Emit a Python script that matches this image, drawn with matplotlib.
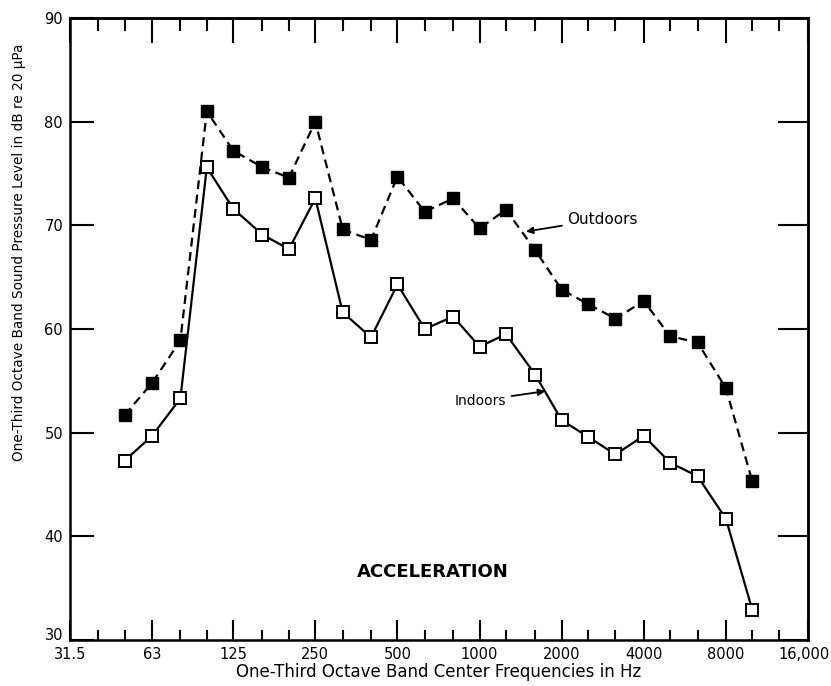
import matplotlib
matplotlib.use("Agg")
import matplotlib.pyplot as plt
import matplotlib.transforms as mtransforms
from matplotlib.ticker import FixedLocator, NullFormatter, NullLocator

# --- data -------------------------------------------------------------
freqs = [50, 63, 80, 100, 125, 160, 200, 250, 315, 400, 500, 630, 800,
         1000, 1250, 1600, 2000, 2500, 3150, 4000, 5000, 6300, 8000, 10000]
outdoors = [51.7, 54.8, 58.9, 81.0, 77.2, 75.6, 74.6, 80.0, 69.6, 68.6,
            74.7, 71.3, 72.6, 69.7, 71.5, 67.6, 63.8, 62.4, 61.0, 62.7,
            59.3, 58.7, 54.3, 45.3]
indoors = [47.3, 49.7, 53.3, 75.6, 71.6, 69.1, 67.7, 72.6, 61.6, 59.2,
           64.3, 60.0, 61.2, 58.3, 59.5, 55.6, 51.2, 49.6, 47.9, 49.7,
           47.1, 45.8, 41.7, 32.9]
octave_ticks = [31.5, 63, 125, 250, 500, 1000, 2000, 4000, 8000, 16000]
octave_labels = ["31.5", "63", "125", "250", "500", "1000", "2000", "4000",
                 "8000", "16,000"]
third_ticks = [40, 50, 80, 100, 160, 200, 315, 400, 630, 800, 1250, 1600,
               2500, 3150, 5000, 6300, 10000, 12500]
y_ticks = [30, 40, 50, 60, 70, 80, 90]

# --- figure -----------------------------------------------------------
fig = plt.figure(figsize=(8.31, 6.86), dpi=100)
ax = fig.add_axes([0.0842, 0.067, 0.8881, 0.9068])

ax.plot(freqs, outdoors, linestyle=(0, (4, 2.5)), color="black", lw=1.6,
        marker="s", markersize=8, markerfacecolor="black",
        markeredgecolor="black", zorder=3)
ax.plot(freqs, indoors, linestyle="-", color="black", lw=1.6,
        marker="s", markersize=8.5, markerfacecolor="white",
        markeredgecolor="black", markeredgewidth=1.4, zorder=3)

ax.set_xscale("log")
ax.set_xlim(31.5, 16000)
ax.set_ylim(30, 90)

for s in ax.spines.values():
    s.set_linewidth(1.8)

# x ticks (bottom)
ax.xaxis.set_major_locator(FixedLocator(octave_ticks))
ax.set_xticklabels(octave_labels)
ax.xaxis.set_minor_locator(FixedLocator(third_ticks))
ax.xaxis.set_minor_formatter(NullFormatter())
ax.tick_params(axis="x", which="major", direction="in", length=14.4,
               width=1.5, labelsize=10.5, pad=5)
ax.tick_params(axis="x", which="minor", direction="in", length=7.2, width=1.5)
lbls = ax.get_xticklabels()
lbls[-1].set_transform(lbls[-1].get_transform() +
                       mtransforms.ScaledTranslation(-4 / 100, 0,
                                                     fig.dpi_scale_trans))

# y ticks (left)
ax.yaxis.set_major_locator(FixedLocator(y_ticks))
ax.yaxis.set_minor_locator(NullLocator())
ax.tick_params(axis="y", which="major", direction="in", length=17, width=1.5,
               labelsize=10.5, pad=5)
ylbls = ax.get_yticklabels()
ylbls[0].set_verticalalignment("bottom")
ylbls[0].set_transform(ylbls[0].get_transform() +
                       mtransforms.ScaledTranslation(0, -3 / 100,
                                                     fig.dpi_scale_trans))

# top ticks
top = ax.secondary_xaxis("top")
top.set_xscale("log")
top.xaxis.set_major_locator(FixedLocator(octave_ticks))
top.xaxis.set_minor_locator(FixedLocator(third_ticks))
top.xaxis.set_major_formatter(NullFormatter())
top.xaxis.set_minor_formatter(NullFormatter())
top.tick_params(which="major", direction="in", length=18, width=1.5)
top.tick_params(which="minor", direction="in", length=9.4, width=1.5)
top.spines["top"].set_linewidth(1.8)

# right ticks
right = ax.secondary_yaxis("right")
right.yaxis.set_major_locator(FixedLocator(y_ticks))
right.yaxis.set_major_formatter(NullFormatter())
right.tick_params(which="major", direction="in", length=21.5, width=1.5)
right.spines["right"].set_linewidth(1.8)

ax.set_xlabel("One-Third Octave Band Center Frequencies in Hz", fontsize=12,
              labelpad=1)
ax.set_ylabel("One-Third Octave Band Sound Pressure Level in dB re 20 \u03bcPa",
              fontsize=9.8)
ax.yaxis.set_label_coords(-0.06, 0.624)

# annotations
ax.annotate("Outdoors", xy=(1480, 69.4), xytext=(2100, 70.6),
            fontsize=11, va="center", ha="left",
            arrowprops=dict(arrowstyle="-|>", color="black", lw=1.3,
                            shrinkA=2, shrinkB=0, mutation_scale=10))
ax.annotate("Indoors", xy=(1740, 54.0), xytext=(810, 53.1),
            fontsize=10, va="center", ha="left",
            arrowprops=dict(arrowstyle="-|>", color="black", lw=1.3,
                            shrinkA=2, shrinkB=0, mutation_scale=10))
ax.text(672, 36.6, "ACCELERATION", fontsize=13, fontweight="bold",
        ha="center", va="center")

fig.savefig("out.png", dpi=100)
